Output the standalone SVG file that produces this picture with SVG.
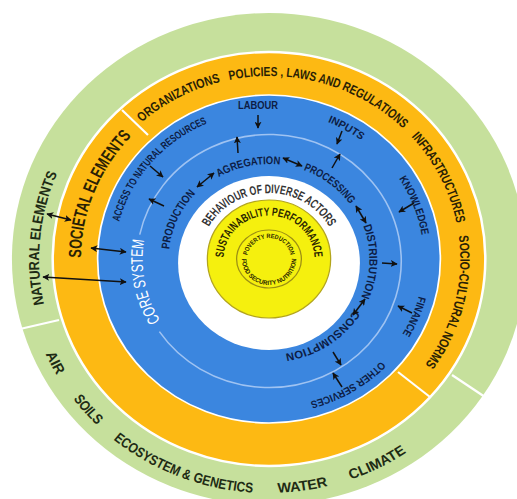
<svg xmlns="http://www.w3.org/2000/svg" width="517" height="499" viewBox="0 0 517 499">
<defs>
<style>
.t{font-family:"Liberation Sans",Arial,sans-serif;font-weight:bold;text-anchor:middle}
.nat{fill:#1e2b14;font-size:14px}
.soc{fill:#2a1f05;font-size:13px}
.socbig{fill:#2a1f05;font-size:17px}
.cs{fill:#0d1d45;font-size:10.5px}
.cin{fill:#0d1d45;font-size:11px}
.core{fill:#ffffff;font-size:16px;font-weight:normal}
.beh{fill:#333333;font-size:12.5px}
.sus{fill:#2b2600;font-size:11.5px}
.out{fill:#2b2600;font-size:6.3px}
.div{stroke:#ffffff;stroke-width:2.2;fill:none}
.arr{stroke:#111111;stroke-width:1.5;fill:none;marker-end:url(#ah)}
.dbl{marker-start:url(#ah)}
</style>
<marker id="ah" viewBox="0 0 10 10" refX="9" refY="5" markerWidth="7" markerHeight="7" markerUnits="userSpaceOnUse" orient="auto-start-reverse">
<path d="M0,0 L10,5 L0,10 L2.5,5 z" fill="#111111"/>
</marker>
<path id="p-nat" d="M91.2,200.2 A220,220 0 1 1 127.8,-179.1"/>
<path id="p-air" d="M12.7,-233.7 A234,234 0 1 0 196.0,127.8"/>
<path id="p-soils" d="M-44.6,-229.7 A234,234 0 1 0 221.3,76.2"/>
<path id="p-eco" d="M-145.0,-183.6 A234,234 0 1 0 231.5,-33.8"/>
<path id="p-water" d="M-217.0,-87.7 A234,234 0 1 0 184.4,-144.1"/>
<path id="p-climate" d="M-233.7,-12.7 A234,234 0 1 0 127.8,-196.0"/>
<path id="p-soc" d="M26.0,178.1 A180,180 0 1 1 141.3,-111.6"/>
<path id="p-org" d="M-96.4,155.5 A183,183 0 1 1 182.9,5.7"/>
<path id="p-pol" d="M-177.8,43.3 A183,183 0 1 1 126.4,132.3"/>
<path id="p-inf" d="M-152.8,-100.7 A183,183 0 1 1 -10.9,182.7"/>
<path id="p-scn" d="M-50.3,-176.0 A183,183 0 1 1 -127.2,131.5"/>
<path id="p-acc" d="M-27.0,145.5 A148,148 0 1 1 139.5,-49.4"/>
<path id="p-inp" d="M-148.0,1.3 A148,148 0 1 1 75.1,127.5"/>
<path id="p-kno" d="M-115.2,-92.9 A148,148 0 1 1 -22.9,146.2"/>
<path id="p-fin" d="M-19.3,-146.7 A148,148 0 1 1 -117.4,90.1"/>
<path id="p-oth" d="M72.0,-129.3 A148,148 0 1 1 -148.0,2.3"/>
<path id="p-pro" d="M9.4,95.5 A96,96 0 1 1 78.1,-55.9"/>
<path id="p-agr" d="M-70.6,63.6 A95,95 0 1 1 90.4,29.4"/>
<path id="p-prc" d="M-94.2,-12.4 A95,95 0 1 1 36.4,87.8"/>
<path id="p-dis" d="M-45.7,-84.4 A96,96 0 1 1 -50.2,81.8"/>
<path id="p-con" d="M42.7,-86.0 A96,96 0 1 1 -95.8,6.0"/>
<path id="p-core" d="M79.1,91.6 A121,121 0 1 1 39.8,-114.3"/>
<path id="p-beh" d="M-57.2,33.0 A66,66 0 1 1 57.2,33.0"/>
<path id="p-sus" d="M-37.7,21.8 A43.5,43.5 0 1 1 37.7,21.8"/>
<path id="p-pov" d="M-18.2,10.5 A21,21 0 1 1 18.2,10.5"/>
<path id="p-food" d="M-22.5,-13 A26,26 0 1 0 22.5,-13"/>
</defs>
<rect width="517" height="499" fill="#ffffff"/>

<g id="natural-elements" transform="translate(269 259) scale(1.045 1)">
<circle r="246" fill="#c6e09c"/>
<text class="t nat"><textPath href="#p-nat" startOffset="50%" textLength="134" lengthAdjust="spacingAndGlyphs">NATURAL ELEMENTS</textPath></text>
<text class="t nat"><textPath href="#p-air" startOffset="50%" textLength="24" lengthAdjust="spacingAndGlyphs">AIR</textPath></text>
<text class="t nat"><textPath href="#p-soils" startOffset="50%" textLength="35" lengthAdjust="spacingAndGlyphs">SOILS</textPath></text>
<text class="t nat"><textPath href="#p-eco" startOffset="50%" textLength="146" lengthAdjust="spacingAndGlyphs">ECOSYSTEM &amp; GENETICS</textPath></text>
<text class="t nat"><textPath href="#p-water" startOffset="50%" textLength="49" lengthAdjust="spacingAndGlyphs">WATER</textPath></text>
<text class="t nat"><textPath href="#p-climate" startOffset="50%" textLength="60" lengthAdjust="spacingAndGlyphs">CLIMATE</textPath></text>
</g>

<g id="societal-elements" transform="translate(269 259) scale(1.045 1)">
<circle r="207" fill="#fdb913" stroke="#ffffff" stroke-width="2.4"/>
<text class="t socbig"><textPath href="#p-soc" startOffset="50%" textLength="134" lengthAdjust="spacingAndGlyphs">SOCIETAL ELEMENTS</textPath></text>
<text class="t soc"><textPath href="#p-org" startOffset="50%" textLength="86" lengthAdjust="spacingAndGlyphs">ORGANIZATIONS</textPath></text>
<text class="t soc"><textPath href="#p-pol" startOffset="50%" textLength="180" lengthAdjust="spacingAndGlyphs">POLICIES , LAWS AND REGULATIONS</textPath></text>
<text class="t soc"><textPath href="#p-inf" startOffset="50%" textLength="98" lengthAdjust="spacingAndGlyphs">INFRASTRUCTURES</textPath></text>
<text class="t soc"><textPath href="#p-scn" startOffset="50%" textLength="136" lengthAdjust="spacingAndGlyphs">SOCIO-CULTURAL NORMS</textPath></text>
</g>

<g id="core-system" transform="translate(269 259) scale(1.045 1)">
<circle r="164" fill="#3b86df" stroke="#ffffff" stroke-width="1.6"/>
<path d="M-123.7,-24.3 A126.5,126.5 0 1 1 -104.9,72.7" stroke="#9fc3f2" stroke-width="1.5" fill="none"/>
<text class="t core"><textPath href="#p-core" startOffset="50%" textLength="84" lengthAdjust="spacingAndGlyphs">CORE SYSTEM</textPath></text>
<text class="t cs"><textPath href="#p-acc" startOffset="50%" textLength="134" lengthAdjust="spacingAndGlyphs">ACCESS TO NATURAL RESOURCES</textPath></text>
<text class="t cs"><textPath href="#p-inp" startOffset="50%" textLength="37" lengthAdjust="spacingAndGlyphs">INPUTS</textPath></text>
<text class="t cs"><textPath href="#p-kno" startOffset="50%" textLength="61" lengthAdjust="spacingAndGlyphs">KNOWLEDGE</textPath></text>
<text class="t cs"><textPath href="#p-fin" startOffset="50%" textLength="41" lengthAdjust="spacingAndGlyphs">FINANCE</textPath></text>
<text class="t cs"><textPath href="#p-oth" startOffset="50%" textLength="80" lengthAdjust="spacingAndGlyphs">OTHER SERVICES</textPath></text>
<text class="t cin"><textPath href="#p-pro" startOffset="50%" textLength="62" lengthAdjust="spacingAndGlyphs">PRODUCTION</textPath></text>
<text class="t cin"><textPath href="#p-agr" startOffset="50%" textLength="61" lengthAdjust="spacingAndGlyphs">AGREGATION</textPath></text>
<text class="t cin"><textPath href="#p-prc" startOffset="50%" textLength="57" lengthAdjust="spacingAndGlyphs">PROCESSING</textPath></text>
<text class="t cin"><textPath href="#p-dis" startOffset="50%" textLength="73" lengthAdjust="spacingAndGlyphs">DISTRIBUTION</textPath></text>
<text class="t cin"><textPath href="#p-con" startOffset="50%" textLength="81" lengthAdjust="spacingAndGlyphs">CONSUMPTION</textPath></text>
</g>
<text id="labour" class="t cs" x="258" y="109" textLength="40" lengthAdjust="spacingAndGlyphs">LABOUR</text>

<g id="behaviour" transform="translate(269 259) scale(1.045 1)">
<circle cy="4" r="87" fill="#ffffff"/>
<text class="t beh"><textPath href="#p-beh" startOffset="50%" textLength="140" lengthAdjust="spacingAndGlyphs">BEHAVIOUR OF DIVERSE ACTORS</textPath></text>
</g>

<g id="sustainability" transform="translate(269 259) scale(1.045 1)">
<circle r="59" fill="#f5f00e" stroke="#b3a51c" stroke-width="1.2"/>
<text class="t sus"><textPath href="#p-sus" startOffset="50%" textLength="133" lengthAdjust="spacingAndGlyphs">SUSTAINABILITY PERFORMANCE</textPath></text>
</g>

<g id="outcomes" transform="translate(269 259) scale(1.045 1)">
<ellipse rx="31" ry="29" fill="#f5f00e" stroke="#9c8f14" stroke-width="1.2"/>
<text class="t out"><textPath href="#p-pov" startOffset="50%" textLength="58" lengthAdjust="spacingAndGlyphs">POVERTY REDUCTION</textPath></text>
<text class="t out"><textPath href="#p-food" startOffset="50%" textLength="82" lengthAdjust="spacingAndGlyphs">FOOD SECURITY NUTRITION</textPath></text>
</g>

<g id="dividers">
<line class="div" x1="20" y1="329" x2="59" y2="320"/>
<line class="div" x1="122" y1="110" x2="148" y2="135"/>
<line class="div" x1="398" y1="372" x2="430" y2="397"/>
<line class="div" x1="452" y1="375" x2="485" y2="397"/>
</g>

<g id="connectors">
<line class="arr" x1="258" y1="115" x2="258" y2="128"/>
<line class="arr" x1="238" y1="153" x2="237" y2="137"/>
<line class="arr dbl" x1="283" y1="158" x2="302" y2="166"/>
<line class="arr dbl" x1="197" y1="187" x2="214" y2="173"/>
<line class="arr" x1="150" y1="166" x2="163" y2="177"/>
<line class="arr" x1="164" y1="206" x2="149" y2="199"/>
<line class="arr" x1="342" y1="131" x2="337" y2="144"/>
<line class="arr" x1="332" y1="168" x2="340" y2="154"/>
<line class="arr" x1="414" y1="203" x2="399" y2="212"/>
<line class="arr dbl" x1="356" y1="206" x2="366" y2="223"/>
<line class="arr" x1="382" y1="263" x2="397" y2="264"/>
<line class="arr dbl" x1="365" y1="299" x2="353" y2="315"/>
<line class="arr" x1="412" y1="313" x2="398" y2="306"/>
<line class="arr" x1="333" y1="352" x2="341" y2="365"/>
<line class="arr" x1="342" y1="387" x2="333" y2="373"/>
<line class="arr dbl" x1="47" y1="214" x2="71" y2="220"/>
<line class="arr dbl" x1="91" y1="248" x2="126" y2="252"/>
<line class="arr dbl" x1="43" y1="277" x2="126" y2="282"/>
</g>
</svg>
